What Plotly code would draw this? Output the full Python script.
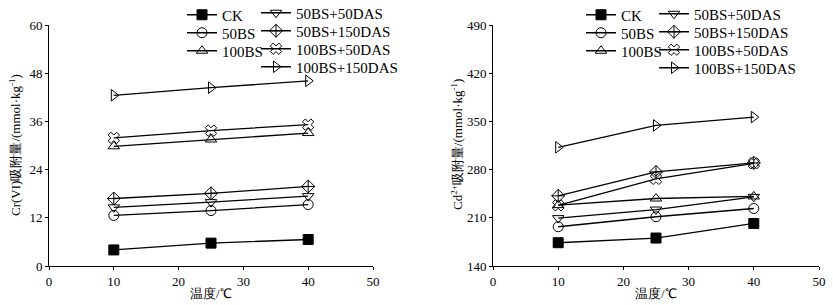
import plotly.graph_objects as go

temps = [10, 25, 40]
series_names = ["CK", "50BS", "100BS", "50BS+50DAS", "50BS+150DAS", "100BS+50DAS", "100BS+150DAS"]
cr_ck = [4.0, 5.7, 6.6]
cr_50bs = [12.6, 13.8, 15.3]
cr_100bs = [29.8, 31.5, 33.1]
cr_50bs_50das = [14.6, 15.9, 17.4]
cr_50bs_150das = [16.8, 18.1, 19.8]
cr_100bs_50das = [31.9, 33.7, 35.2]
cr_100bs_150das = [42.5, 44.4, 46.1]

cd_ck = [173.8, 180.6, 201.8]
cd_50bs = [197.0, 211.5, 223.5]
cd_100bs = [228.4, 238.0, 241.0]
cd_50bs_50das = [209.5, 222.0, 240.4]
cd_50bs_150das = [241.9, 276.6, 289.7]
cd_100bs_50das = [228.0, 266.5, 289.2]
cd_100bs_150das = [312.4, 344.2, 356.3]

cr_values = [cr_ck, cr_50bs, cr_100bs, cr_50bs_50das, cr_50bs_150das, cr_100bs_50das, cr_100bs_150das]
cd_values = [cd_ck, cd_50bs, cd_100bs, cd_50bs_50das, cd_50bs_150das, cd_100bs_50das, cd_100bs_150das]

cr_ticks = [0, 12, 24, 36, 48, 60]
cd_ticks = [140, 210, 280, 350, 420, 490]
x_ticks = [0, 10, 20, 30, 40, 50]

symbols = ["square", "circle-open", "triangle-up-open", "triangle-down-open",
           "diamond-cross-open", "x-open", "triangle-right-open"]

W, H = 833, 305
FONT = "Liberation Serif"

# legend entry positions (px, text start / row centre), per panel
leg_pos = [
    [(222, 15), (222, 33), (222, 51), (296, 13), (296, 31), (296, 49), (296, 67)],
    [(621, 15), (621, 33), (621, 51), (694, 14), (694, 32), (694, 50), (694, 68)],
]

fig = go.Figure()
legends = {}
n = 0
for panel, vals, xa, ya in [(0, cr_values, "x", "y"), (1, cd_values, "x2", "y2")]:
    for i, (name, v) in enumerate(zip(series_names, vals)):
        n += 1
        lname = "legend" if n == 1 else f"legend{n}"
        px, py = leg_pos[panel][i]
        legends[lname] = dict(x=(px - 40) / W, y=1 - py / H, xanchor="left", yanchor="middle",
                              xref="container", yref="container", bgcolor="rgba(0,0,0,0)",
                              font=dict(family=FONT, size=15, color="black"),
                              itemwidth=30, itemclick=False, itemdoubleclick=False)
        fig.add_trace(go.Scatter(
            x=temps, y=v, name=name, mode="lines+markers",
            xaxis=xa, yaxis=ya, legend=lname, showlegend=True,
            line=dict(color="black", width=1.3),
            marker=dict(symbol=symbols[i], size=10, color="black",
                        line=dict(color="black", width=1)),
            cliponaxis=False,
        ))

axis_common = dict(showline=True, linecolor="black", linewidth=1, showgrid=False,
                   zeroline=False, ticks="outside", ticklen=3, tickcolor="black",
                   tickfont=dict(family=FONT, size=13, color="black"), mirror=False,
                   automargin=False)

fig.update_layout(
    width=W, height=H,
    showlegend=True,
    margin=dict(l=0, r=0, t=0, b=0, autoexpand=False),
    paper_bgcolor="white", plot_bgcolor="white",
    font=dict(family=FONT, size=13, color="black"),
    xaxis=dict(domain=[49 / W, 373 / W], range=[0, 50], tickvals=x_ticks, anchor="y", **axis_common),
    yaxis=dict(domain=[1 - 266 / H, 1 - 25 / H], range=[0, 60], tickvals=cr_ticks, anchor="x", **axis_common),
    xaxis2=dict(domain=[493 / W, 819 / W], range=[0, 50], tickvals=x_ticks, anchor="y2", **axis_common),
    yaxis2=dict(domain=[1 - 266 / H, 1 - 25 / H], range=[140, 490], tickvals=cd_ticks, anchor="x2", **axis_common),
    **legends,
)

titles = [
    ("Cr(VI)吸附量/(mmol·kg<sup>-1</sup>)", 15, 145, -90),
    ("Cd<sup>2+</sup>吸附量/(mmol·kg<sup>-1</sup>)", 457, 145, -90),
    ("温度/℃", 211, 293, 0),
    ("温度/℃", 656, 293, 0),
]
for text, px, py, ang in titles:
    fig.add_annotation(text=text, x=px / W, y=1 - py / H, xref="paper", yref="paper",
                       xanchor="center", yanchor="middle", showarrow=False, textangle=ang,
                       font=dict(family=FONT, size=13, color="black"))

fig.write_html("out.html", config={"displayModeBar": False},
               post_script="document.body.style.margin='0';")
